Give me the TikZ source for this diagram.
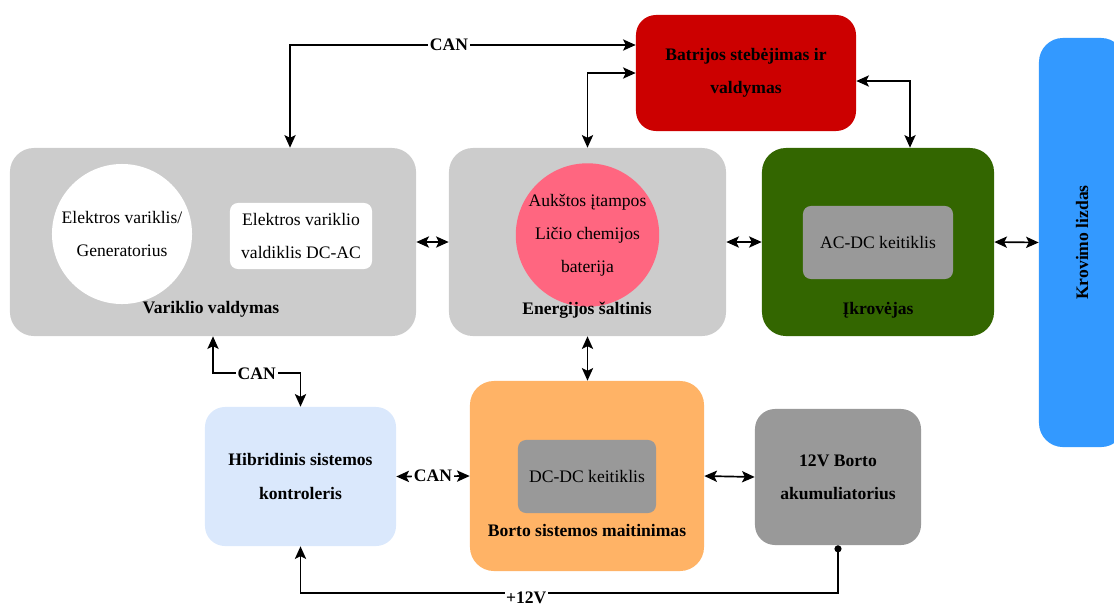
\documentclass[tikz,border=0pt]{standalone}
\usepackage{fontspec}
\setmainfont{Liberation Serif}
\usetikzlibrary{arrows.meta}

\definecolor{sviesipilka}{HTML}{CCCCCC}
\definecolor{pilka}{HTML}{999999}
\definecolor{rausva}{HTML}{FF6680}
\definecolor{raudona}{HTML}{CC0000}
\definecolor{zalia}{HTML}{336600}
\definecolor{melyna}{HTML}{3399FF}
\definecolor{zydra}{HTML}{DAE8FC}
\definecolor{oranzine}{HTML}{FFB366}

\begin{document}
\begin{tikzpicture}[x=0.025cm, y=-0.025cm,
  every node/.style={font=\fontsize{12.5}{23.5}\selectfont},
  blok/.style={rounded corners=0.6cm, inner sep=0pt, align=center, font=\fontsize{12.5}{23.5}\selectfont\bfseries},
  vidus/.style={rounded corners=0.2cm, inner sep=0pt, align=center},
  lbl/.style={font=\fontsize{12.5}{23.5}\selectfont\bfseries},
  can/.style={fill=white, inner sep=1.5pt, font=\fontsize{12.5}{14}\selectfont\bfseries},
  dvi/.style={line width=1.2pt, {Stealth[length=9pt, width=8pt, inset=2pt]}-{Stealth[length=9pt, width=8pt, inset=2pt]}}]
\clip (0,0) rectangle (1114,607);

% blokai
\node[blok, fill=sviesipilka, minimum width=10.15cm, minimum height=4.7cm] (vv) at (213,242) {};
\node[blok, fill=sviesipilka, minimum width=6.925cm, minimum height=4.7cm] (es) at (587.5,242) {};
\node[blok, fill=raudona, rounded corners=0.5cm, minimum width=5.5cm, minimum height=2.9cm] (bsv) at (746,73) {Batrijos stebėjimas ir\\valdymas};
\node[blok, fill=zalia, minimum width=5.8cm, minimum height=4.7cm] (ikr) at (878,242) {};
\node[blok, fill=melyna, minimum width=2.15cm, minimum height=10.225cm] (kl) at (1082,242.5) {};
\node[blok, fill=zydra, rounded corners=0.5cm, minimum width=4.775cm, minimum height=3.475cm] (hsk) at (300.5,476.5) {Hibridinis sistemos\\kontroleris};
\node[blok, fill=oranzine, minimum width=5.85cm, minimum height=4.75cm] (bsm) at (587,476) {};
\node[blok, fill=pilka, rounded corners=0.5cm, minimum width=4.15cm, minimum height=3.4cm] (akum) at (838,477) {12V Borto\\akumuliatorius};

% vidiniai elementai
\node[circle, fill=white, inner sep=0pt, minimum size=3.5cm, align=center] (gen) at (122,234) {Elektros variklis/\\Generatorius};
\node[vidus, fill=white, minimum width=3.55cm, minimum height=1.65cm] (dcac) at (301,236) {Elektros variklio\\valdiklis DC-AC};
\node[circle, fill=rausva, inner sep=0pt, minimum size=3.275cm, align=center] (bat) at (587.5,235) {Aukštos įtampos\\Ličio chemijos\\baterija};
\node[vidus, fill=pilka, minimum width=3.75cm, minimum height=1.825cm] (acdc) at (878,242.5) {AC-DC keitiklis};
\node[vidus, fill=pilka, minimum width=3.45cm, minimum height=1.825cm] (dcdc) at (587,476.5) {DC-DC keitiklis};

% pavadinimai
\node[lbl] (vvl) at (211,309) {Variklio valdymas};
\node[lbl] (esl) at (587,310) {Energijos šaltinis};
\node[lbl] (ikrl) at (878,310) {Įkrovėjas};
\node[lbl] (bsml) at (587,530) {Borto sistemos maitinimas};
\node[lbl, rotate=90] (kll) at (kl.center) {Krovimo lizdas};

% jungtys
\draw[dvi] ([xshift=1.925cm]vv.north) |- node[can, pos=0.73]{CAN} ([yshift=0.7cm]bsv.west);
\draw[dvi] (es.north) |- (bsv.west);
\draw[dvi] ([yshift=-0.2cm]bsv.east) -| ([xshift=0.8cm]ikr.north);
\draw[dvi] (vv.east) -- (es.west);
\draw[dvi] (es.east) -- (ikr.west);
\draw[dvi] (ikr.east) -- (kl.west);
\draw[dvi] (es.south) -- (es.south |- bsm.north);
\draw[dvi] (vv.south) -- ++(0,-0.925cm) -| node[can, pos=0.25]{CAN} (hsk.north);
\draw[dvi] (hsk.east) -- node[can]{CAN} (bsm.west);
\draw[dvi] (bsm.east) -- (akum.west);
\draw[line width=1.2pt, {Circle[length=5pt]}-{Stealth[length=9pt, width=8pt, inset=2pt]}] (akum.south) -- ++(0,-1.2cm) -| node[can, pos=0.29, yshift=-0.12cm, inner sep=1pt]{+12V} (hsk.south);
\end{tikzpicture}
\end{document}
